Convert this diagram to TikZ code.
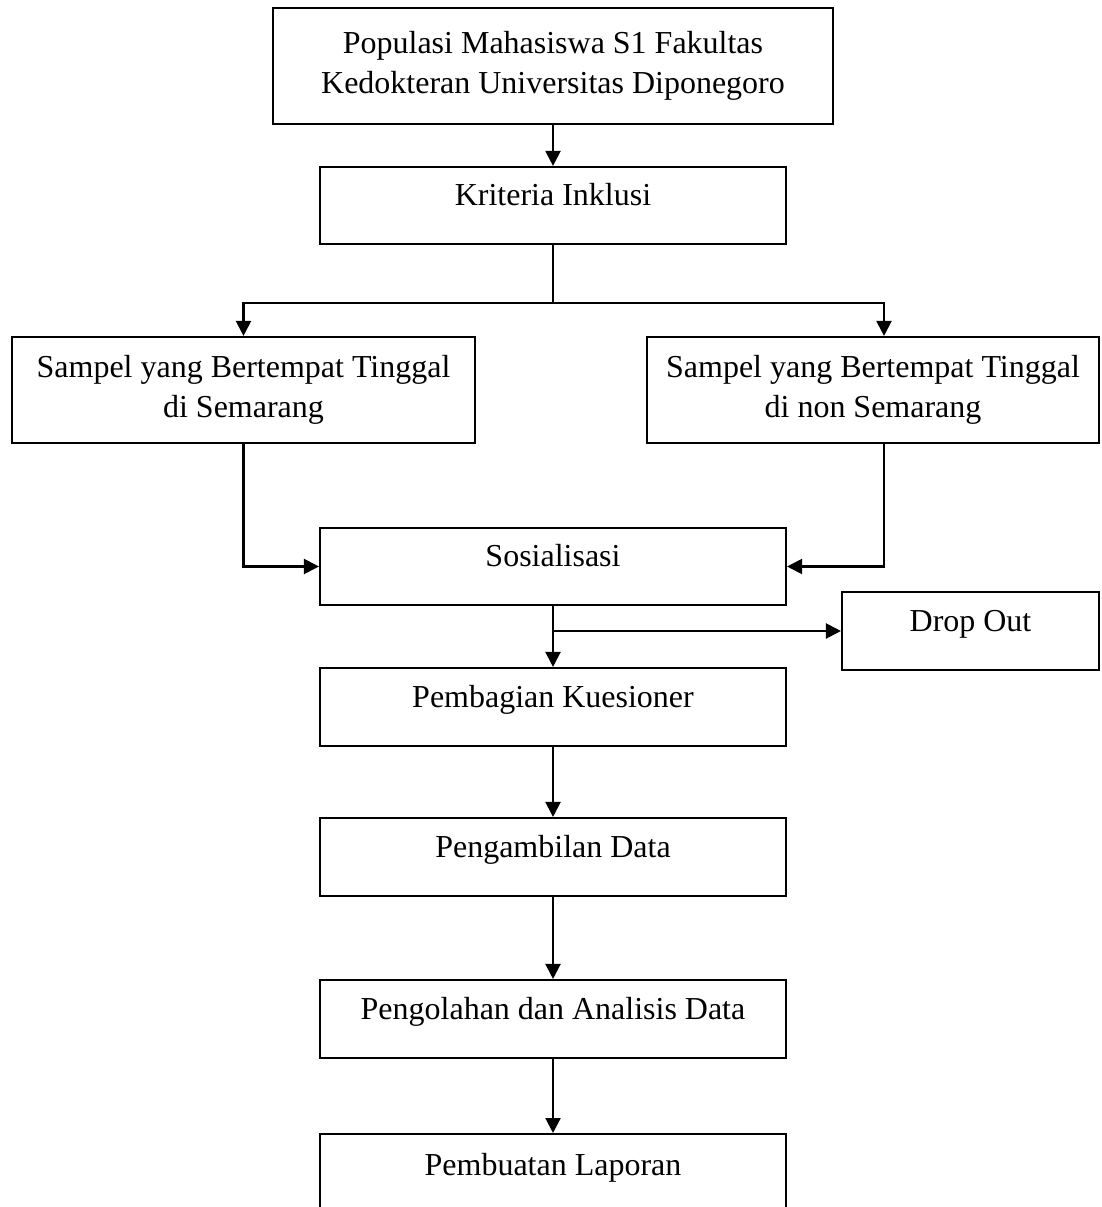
\documentclass[tikz,border=0pt]{standalone}
\usepackage{fontspec}
\setmainfont{Liberation Serif}
\usepackage{tikz}
\usetikzlibrary{arrows.meta,positioning}

\begin{document}
\begin{tikzpicture}[
  box/.style={draw=black, line width=1.2pt, fill=white,
              minimum width=9.32cm, minimum height=1.56cm,
              align=center, font=\fontsize{18.2}{22.8}\selectfont},
  mid/.style={text height=0.4cm, text depth=0.4cm},
  line/.style={line width=1.2pt, draw=black},
  arrow/.style={line, -{Triangle[length=0.3cm, width=0.3cm]}}
]
  \useasboundingbox (0,0) rectangle (22.02,-24.14);
  \clip (0,0) rectangle (22.02,-24.14);

  \node[box, minimum width=11.2cm, minimum height=2.32cm] (populasi) at (11.06,-1.32)
    {Populasi Mahasiswa S1 Fakultas\\Kedokteran Universitas Diponegoro};
  \node[box, mid, minimum height=1.54cm] (kriteria) at (11.06,-4.11) {Kriteria Inklusi};

  \node[box, minimum width=9.26cm, minimum height=2.12cm] (semarang) at (4.87,-7.8)
    {Sampel yang Bertempat Tinggal\\di Semarang};
  \node[box, minimum width=9.04cm, minimum height=2.12cm] (nonsemarang) at (17.46,-7.8)
    {Sampel yang Bertempat Tinggal\\di non Semarang};

  \node[box, mid, minimum height=1.54cm] (sosialisasi) at (11.06,-11.33) {Sosialisasi};
  \node[box, mid, minimum width=5.14cm] (dropout) at (19.41,-12.62) {Drop Out};
  \node[box, mid] (kuesioner) at (11.06,-14.14) {Pembagian Kuesioner};
  \node[box, mid] (pengambilan) at (11.06,-17.14) {Pengambilan Data};
  \node[box, mid] (pengolahan) at (11.06,-20.38) {Pengolahan dan Analisis Data};
  \node[box, mid, minimum height=1.64cm, anchor=north] (laporan) at (11.06,-22.66) {Pembuatan Laporan};

  \coordinate (split) at (11.06,-6.06);
  \coordinate (ntop) at ([xshift=0.22cm]nonsemarang.north);
  \coordinate (nbot) at ([xshift=0.22cm]nonsemarang.south);

  \draw[arrow] (populasi) -- (kriteria);
  \draw[line] (kriteria) -- (split);
  \draw[arrow] (split) -| (semarang.north);
  \draw[arrow] (split) -| (ntop);
  \draw[arrow] (semarang.south) |- (sosialisasi.west);
  \draw[arrow] (nbot) |- (sosialisasi.east);
  \draw[arrow] (sosialisasi) -- (kuesioner);
  \draw[arrow] (sosialisasi.south |- dropout.west) -- (dropout.west);
  \draw[arrow] (kuesioner) -- (pengambilan);
  \draw[arrow] (pengambilan) -- (pengolahan);
  \draw[arrow] (pengolahan) -- (laporan);
\end{tikzpicture}
\end{document}
